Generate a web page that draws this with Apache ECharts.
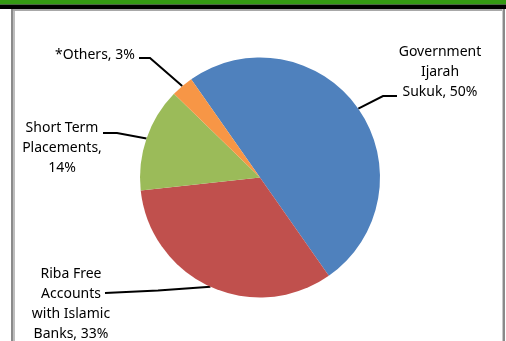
<!DOCTYPE html>
<html><head><meta charset="utf-8">
<script src="https://cdn.jsdelivr.net/npm/echarts@6/dist/echarts.min.js"></script>
<style>html,body{margin:0;padding:0;background:#fff}#c{width:506px;height:341px}</style>
</head><body><div id="c"></div>
<script>
const categories = ['Government\nIjarah\nSukuk', 'Riba Free\nAccounts\nwith Islamic\nBanks', 'Short Term\nPlacements,', '*Others'];
const values = [50, 33, 14, 3];
const colors = ['#4F81BD', '#C0504D', '#9BBB59', '#F79646'];
const labelTexts = ['Government\nIjarah\nSukuk, 50%', 'Riba Free\nAccounts\nwith Islamic\nBanks, 33%', 'Short Term\nPlacements,\n14%', '*Others, 3%'];
// label anchor styles (text centre) and leader bend points
const labelPos = [[440, 72], [71, 304], [62, 148], [95, 55]];
const bendPts = [[[383, 96], [397, 96]], [[158, 290.5], [105, 293]], [[117, 133], [103, 133]], [[150, 58], [139, 58]]];

const cx = 260, cy = 177.5, R = 120, startAngle = 125;
const total = values.reduce((a, b) => a + b, 0);
function edgePoint(i) {
  let before = 0;
  for (let k = 0; k < i; k++) before += values[k];
  const mid = startAngle - (before + values[i] / 2) / total * 360;
  const a = mid * Math.PI / 180;
  return [cx + R * Math.cos(a), cy - R * Math.sin(a)];
}

const chart = echarts.init(document.getElementById('c'), null, {renderer: 'canvas'});
chart.setOption({
  animation: false,
  backgroundColor: '#fff',
  graphic: [
    {type: 'rect', shape: {x: 0, y: 0, width: 506, height: 4.5}, style: {fill: '#349A13'}, z: 10},
    {type: 'rect', shape: {x: 0, y: 4.5, width: 506, height: 4.5}, style: {fill: '#000'}, z: 10},
    {type: 'rect', shape: {x: 11, y: 9, width: 494, height: 2}, style: {fill: '#A8A8A8'}, z: 10},
    {type: 'rect', shape: {x: 11, y: 9, width: 2, height: 332}, style: {fill: '#8A8A8A'}, z: 10},
    {type: 'rect', shape: {x: 13, y: 11, width: 2, height: 330}, style: {fill: '#BDBDBD'}, z: 10},
    {type: 'rect', shape: {x: 502, y: 9, width: 1, height: 332}, style: {fill: '#C8C8C8'}, z: 10},
    {type: 'rect', shape: {x: 503, y: 9, width: 2, height: 332}, style: {fill: '#8A8A8A'}, z: 10}
  ],
  series: [{
    type: 'pie',
    center: [cx, cy],
    radius: [0, R],
    startAngle: startAngle,
    clockwise: true,
    data: categories.map((c, i) => ({name: c, value: values[i], itemStyle: {color: colors[i]}})),
    itemStyle: {borderWidth: 0},
    label: {
      show: true,
      formatter: p => labelTexts[p.dataIndex],
      fontFamily: 'Noto Sans',
      fontSize: 14,
      lineHeight: 20,
      color: '#000',
      align: 'center'
    },
    labelLine: {show: true, lineStyle: {color: '#000', width: 2}},
    labelLayout: function (p) {
      const i = p.dataIndex;
      return {
        x: labelPos[i][0], y: labelPos[i][1],
        align: 'center', verticalAlign: 'middle',
        labelLinePoints: [edgePoint(i), bendPts[i][0], bendPts[i][1]]
      };
    }
  }]
});
</script></body></html>
